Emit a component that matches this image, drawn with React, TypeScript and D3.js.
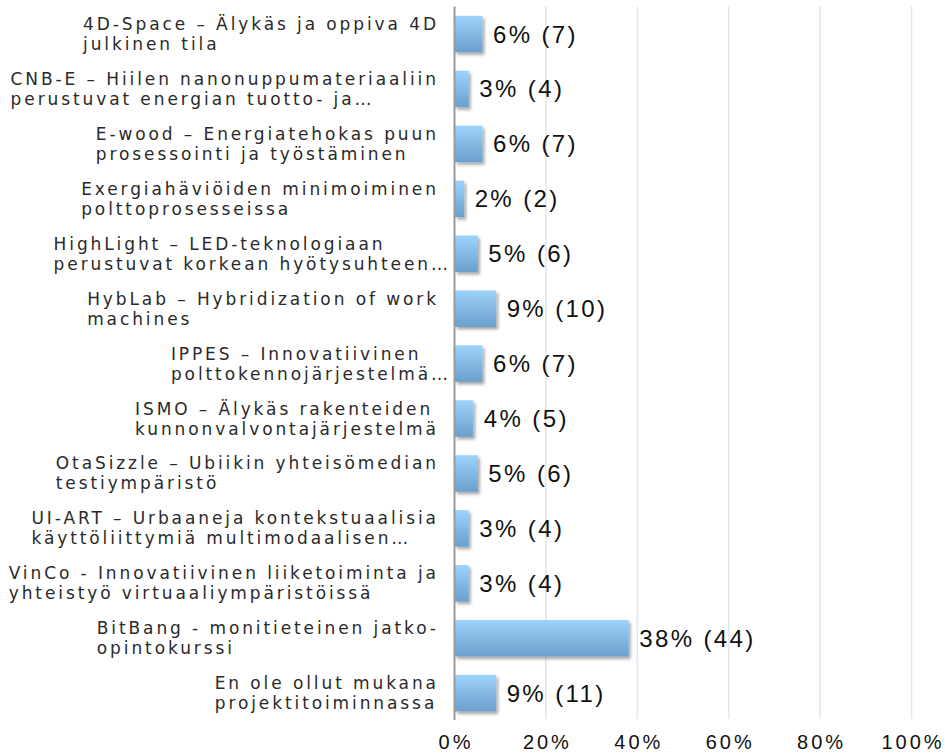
import React, { useEffect, useRef } from "react";
import * as d3 from "d3";

const categories: string[] = [
  "4D-Space – Älykäs ja oppiva 4D\njulkinen tila",
  "CNB-E – Hiilen nanonuppumateriaaliin\nperustuvat energian tuotto- ja…",
  "E-wood – Energiatehokas puun\nprosessointi ja työstäminen",
  "Exergiahäviöiden minimoiminen\npolttoprosesseissa",
  "HighLight – LED-teknologiaan\nperustuvat korkean hyötysuhteen…",
  "HybLab – Hybridization of work\nmachines",
  "IPPES – Innovatiivinen\npolttokennojärjestelmä…",
  "ISMO – Älykäs rakenteiden\nkunnonvalvontajärjestelmä",
  "OtaSizzle – Ubiikin yhteisömedian\ntestiympäristö",
  "UI-ART – Urbaaneja kontekstuaalisia\nkäyttöliittymiä multimodaalisen…",
  "VinCo - Innovatiivinen liiketoiminta ja\nyhteistyö virtuaaliympäristöissä",
  "BitBang - monitieteinen jatko-\nopintokurssi",
  "En ole ollut mukana\nprojektitoiminnassa",
];
const percents: number[] = [6, 3, 6, 2, 5, 9, 6, 4, 5, 3, 3, 38, 9];
const counts: number[] = [7, 4, 7, 2, 6, 10, 7, 5, 6, 4, 4, 44, 11];
const tickValues: number[] = [0, 20, 40, 60, 80, 100];
const tickLabels: string[] = ["0%", "20%", "40%", "60%", "80%", "100%"];

const W = 945;
const H = 753;

export default function App() {
  const ref = useRef<SVGSVGElement | null>(null);

  useEffect(() => {
    const svg = d3.select(ref.current);
    svg.selectAll("*").remove();

    const x = d3.scaleLinear().domain([0, 100]).range([454.5, 911.5]);
    const y = d3
      .scaleBand<number>()
      .domain(d3.range(categories.length))
      .range([6.6, 720.6])
      .paddingInner(0.335)
      .paddingOuter(0.1675);

    const defs = svg.append("defs");
    const grad = defs
      .append("linearGradient")
      .attr("id", "barGrad")
      .attr("x1", 0)
      .attr("y1", 0)
      .attr("x2", 0)
      .attr("y2", 1);
    grad.append("stop").attr("offset", "0%").attr("stop-color", "#9dd3fb");
    grad.append("stop").attr("offset", "100%").attr("stop-color", "#6b9fcc");
    const f = defs
      .append("filter")
      .attr("id", "shadow")
      .attr("x", "-20%")
      .attr("y", "-20%")
      .attr("width", "160%")
      .attr("height", "160%");
    f.append("feDropShadow")
      .attr("dx", 2)
      .attr("dy", 2.5)
      .attr("stdDeviation", 1.6)
      .attr("flood-color", "#000")
      .attr("flood-opacity", 0.35);

    // gridlines
    svg
      .append("g")
      .selectAll("line")
      .data(tickValues.slice(1))
      .join("line")
      .attr("x1", (d) => x(d))
      .attr("x2", (d) => x(d))
      .attr("y1", 6.6)
      .attr("y2", 719)
      .attr("stroke", "#dfe7f1")
      .attr("stroke-width", 1.5);

    // bars
    svg
      .append("g")
      .selectAll("rect")
      .data(percents)
      .join("rect")
      .attr("x", x(0) + 0.5)
      .attr("y", (_, i) => y(i)!)
      .attr("width", (d) => x(d) - x(0))
      .attr("height", y.bandwidth())
      .attr("fill", "url(#barGrad)")
      .attr("filter", "url(#shadow)");

    // axis line
    svg
      .append("line")
      .attr("x1", x(0))
      .attr("x2", x(0))
      .attr("y1", 6.6)
      .attr("y2", 720)
      .attr("stroke", "#9a9a9a")
      .attr("stroke-width", 2);

    // value labels
    svg
      .append("g")
      .selectAll("text")
      .data(percents)
      .join("text")
      .attr("x", (d) => x(d) + 11)
      .attr("y", (_, i) => y(i)! + y.bandwidth() / 2 + 8.5)
      .attr("font-family", "'Liberation Sans', Arial, sans-serif")
      .attr("font-size", 24)
      .attr("letter-spacing", 2.4)
      .attr("fill", "#111")
      .text((d, i) => `${d}% (${counts[i]})`);

    // category labels
    const LS = 2.9;
    const catG = svg.append("g");
    categories.forEach((c, i) => {
      const lines = c.split("\n");
      const cy = y(i)! + y.bandwidth() / 2;
      const g = catG.append("g");
      const texts = lines.map((ln, k) =>
        g
          .append("text")
          .attr("y", cy - 4 + k * 20)
          .attr("font-family", "'DejaVu Sans', Verdana, sans-serif")
          .attr("font-size", 17)
          .attr("letter-spacing", LS)
          .attr("fill", "#2a2a2a")
          .text(ln)
      );
      let start = Infinity;
      texts.forEach((t, k) => {
        const len = (t.node() as SVGTextElement).getComputedTextLength() - LS;
        const edge = lines[k].endsWith("…") ? 448 : 436;
        start = Math.min(start, edge - len);
      });
      texts.forEach((t) => t.attr("x", start));
    });

    // tick labels
    svg
      .append("g")
      .selectAll("text")
      .data(tickValues)
      .join("text")
      .attr("x", (d) => x(d) + 1.5)
      .attr("y", 749)
      .attr("text-anchor", "middle")
      .attr("font-family", "'Liberation Sans', Arial, sans-serif")
      .attr("font-size", 20)
      .attr("letter-spacing", 3)
      .attr("fill", "#111")
      .text((_, i) => tickLabels[i]);
  }, []);

  return (
    <svg
      ref={ref}
      width={W}
      height={H}
      style={{ position: "absolute", left: 0, top: 0, background: "#fff" }}
    />
  );
}
